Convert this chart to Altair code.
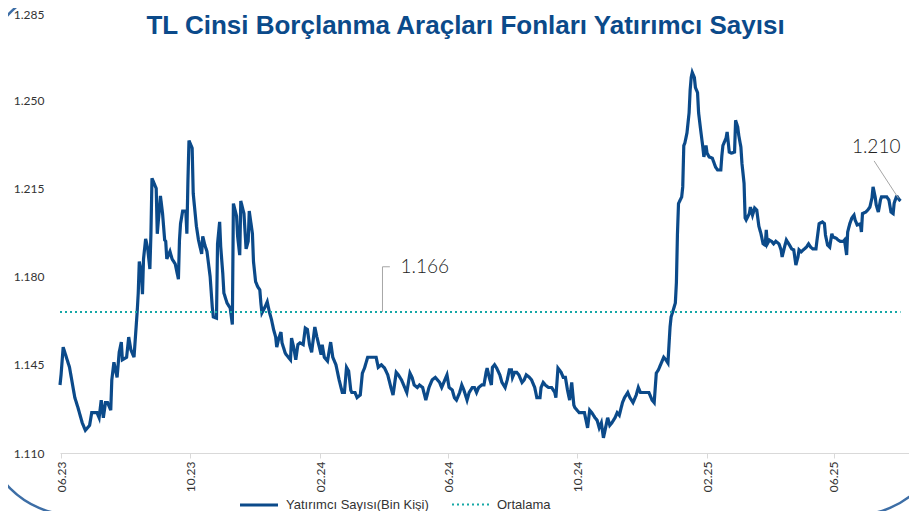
import altair as alt
import pandas as pd

title_text = "TL Cinsi Borçlanma Araçları Fonları Yatırımcı Sayısı"
series_main = "Yatırımcı Sayısı(Bin Kişi)"
series_avg = "Ortalama"

dates = [
    "2023-05-31", "2023-06-01", "2023-06-03", "2023-06-09", "2023-06-14", "2023-06-17", "2023-06-21", "2023-06-24",
    "2023-06-26", "2023-06-28", "2023-06-30", "2023-07-03", "2023-07-05", "2023-07-07", "2023-07-09", "2023-07-11",
    "2023-07-13", "2023-07-15", "2023-07-18", "2023-07-19", "2023-07-21", "2023-07-23", "2023-07-24", "2023-07-26",
    "2023-07-28", "2023-07-29", "2023-08-02", "2023-08-04", "2023-08-06", "2023-08-09", "2023-08-11", "2023-08-12",
    "2023-08-13", "2023-08-14", "2023-08-16", "2023-08-17", "2023-08-18", "2023-08-20", "2023-08-22", "2023-08-24",
    "2023-08-25", "2023-08-26", "2023-08-28", "2023-08-30", "2023-08-31", "2023-09-03", "2023-09-05", "2023-09-07",
    "2023-09-08", "2023-09-09", "2023-09-11", "2023-09-12", "2023-09-14", "2023-09-17", "2023-09-19", "2023-09-20",
    "2023-09-21", "2023-09-22", "2023-09-24", "2023-09-27", "2023-09-28", "2023-09-29", "2023-09-30", "2023-10-03",
    "2023-10-04", "2023-10-07", "2023-10-09", "2023-10-12", "2023-10-13", "2023-10-15", "2023-10-17", "2023-10-20",
    "2023-10-22", "2023-10-23", "2023-10-26", "2023-10-27", "2023-10-29", "2023-10-30", "2023-11-01", "2023-11-02",
    "2023-11-05", "2023-11-08", "2023-11-10", "2023-11-11", "2023-11-14", "2023-11-15", "2023-11-17", "2023-11-18",
    "2023-11-21", "2023-11-23", "2023-11-25", "2023-11-26", "2023-11-29", "2023-11-30", "2023-12-02", "2023-12-04",
    "2023-12-06", "2023-12-07", "2023-12-08", "2023-12-11", "2023-12-13", "2023-12-15", "2023-12-17", "2023-12-19",
    "2023-12-21", "2023-12-22", "2023-12-24", "2023-12-26", "2023-12-27", "2023-12-30", "2023-12-31", "2024-01-02",
    "2024-01-04", "2024-01-05", "2024-01-07", "2024-01-09", "2024-01-11", "2024-01-13", "2024-01-16", "2024-01-18",
    "2024-01-20", "2024-01-22", "2024-01-24", "2024-01-27", "2024-01-29", "2024-01-31", "2024-02-02", "2024-02-03",
    "2024-02-05", "2024-02-08", "2024-02-11", "2024-02-13", "2024-02-16", "2024-02-19", "2024-02-22", "2024-02-24",
    "2024-02-26", "2024-02-28", "2024-03-01", "2024-03-02", "2024-03-05", "2024-03-07", "2024-03-10", "2024-03-12",
    "2024-03-14", "2024-03-17", "2024-03-20", "2024-03-25", "2024-03-27", "2024-03-30", "2024-04-02", "2024-04-05",
    "2024-04-08", "2024-04-10", "2024-04-13", "2024-04-15", "2024-04-18", "2024-04-21", "2024-04-23", "2024-04-26",
    "2024-04-28", "2024-04-30", "2024-05-03", "2024-05-05", "2024-05-08", "2024-05-11", "2024-05-14", "2024-05-17",
    "2024-05-20", "2024-05-24", "2024-05-26", "2024-05-28", "2024-05-31", "2024-06-02", "2024-06-05", "2024-06-07",
    "2024-06-09", "2024-06-12", "2024-06-14", "2024-06-16", "2024-06-19", "2024-06-21", "2024-06-24", "2024-06-26",
    "2024-06-28", "2024-06-30", "2024-07-03", "2024-07-05", "2024-07-07", "2024-07-08", "2024-07-10", "2024-07-12",
    "2024-07-13", "2024-07-15", "2024-07-17", "2024-07-20", "2024-07-22", "2024-07-25", "2024-07-27", "2024-07-29",
    "2024-07-31", "2024-08-01", "2024-08-03", "2024-08-05", "2024-08-07", "2024-08-10", "2024-08-12", "2024-08-14",
    "2024-08-17", "2024-08-19", "2024-08-22", "2024-08-24", "2024-08-27", "2024-08-28", "2024-08-30", "2024-09-01",
    "2024-09-04", "2024-09-07", "2024-09-10", "2024-09-11", "2024-09-13", "2024-09-16", "2024-09-18", "2024-09-20",
    "2024-09-22", "2024-09-24", "2024-09-26", "2024-09-28", "2024-09-29", "2024-10-01", "2024-10-03", "2024-10-06",
    "2024-10-08", "2024-10-10", "2024-10-11", "2024-10-13", "2024-10-15", "2024-10-18", "2024-10-20", "2024-10-22",
    "2024-10-24", "2024-10-26", "2024-10-28", "2024-10-30", "2024-11-01", "2024-11-03", "2024-11-06", "2024-11-08",
    "2024-11-10", "2024-11-13", "2024-11-15", "2024-11-18", "2024-11-20", "2024-11-23", "2024-11-26", "2024-11-28",
    "2024-11-30", "2024-12-03", "2024-12-08", "2024-12-11", "2024-12-13", "2024-12-15", "2024-12-17", "2024-12-19",
    "2024-12-22", "2024-12-24", "2024-12-26", "2024-12-28", "2024-12-29", "2024-12-31", "2025-01-02", "2025-01-03",
    "2025-01-04", "2025-01-05", "2025-01-08", "2025-01-09", "2025-01-10", "2025-01-11", "2025-01-13", "2025-01-15",
    "2025-01-16", "2025-01-17", "2025-01-18", "2025-01-20", "2025-01-21", "2025-01-23", "2025-01-24", "2025-01-26",
    "2025-01-28", "2025-01-29", "2025-01-31", "2025-02-01", "2025-02-03", "2025-02-06", "2025-02-09", "2025-02-11",
    "2025-02-14", "2025-02-15", "2025-02-16", "2025-02-19", "2025-02-20", "2025-02-22", "2025-02-24", "2025-02-27",
    "2025-02-28", "2025-03-02", "2025-03-03", "2025-03-05", "2025-03-06", "2025-03-08", "2025-03-09", "2025-03-10",
    "2025-03-13", "2025-03-14", "2025-03-16", "2025-03-18", "2025-03-20", "2025-03-22", "2025-03-24", "2025-03-26",
    "2025-03-28", "2025-03-29", "2025-03-30", "2025-04-01", "2025-04-03", "2025-04-05", "2025-04-07", "2025-04-10",
    "2025-04-12", "2025-04-13", "2025-04-15", "2025-04-17", "2025-04-20", "2025-04-22", "2025-04-24", "2025-04-26",
    "2025-04-28", "2025-04-29", "2025-05-01", "2025-05-03", "2025-05-06", "2025-05-08", "2025-05-10", "2025-05-12",
    "2025-05-15", "2025-05-16", "2025-05-18", "2025-05-21", "2025-05-23", "2025-05-24", "2025-05-26", "2025-05-28",
    "2025-05-30", "2025-05-31", "2025-06-03", "2025-06-05", "2025-06-07", "2025-06-10", "2025-06-11", "2025-06-13",
    "2025-06-14", "2025-06-16", "2025-06-18", "2025-06-20", "2025-06-21", "2025-06-23", "2025-06-26", "2025-06-27",
    "2025-06-28", "2025-07-01", "2025-07-03", "2025-07-05", "2025-07-07", "2025-07-08", "2025-07-10", "2025-07-11",
    "2025-07-13", "2025-07-15", "2025-07-16", "2025-07-19", "2025-07-21", "2025-07-23", "2025-07-25", "2025-07-27",
    "2025-07-28", "2025-07-30", "2025-07-31", "2025-08-02", "2025-08-03",
]

values = [
    1.137, 1.141, 1.152, 1.144, 1.132, 1.128, 1.122, 1.119,
    1.120, 1.121, 1.126, 1.126, 1.126, 1.124, 1.131, 1.124,
    1.130, 1.130, 1.127, 1.139, 1.146, 1.142, 1.140, 1.150,
    1.154, 1.147, 1.148, 1.156, 1.151, 1.148, 1.160, 1.166,
    1.1735, 1.186, 1.181, 1.173, 1.187, 1.195, 1.191, 1.183,
    1.197, 1.219, 1.217, 1.215, 1.197, 1.212, 1.205, 1.1945,
    1.194, 1.187, 1.189, 1.190, 1.187, 1.185, 1.181, 1.179,
    1.1945, 1.201, 1.206, 1.206, 1.197, 1.218, 1.234, 1.231,
    1.213, 1.200, 1.1945, 1.189, 1.196, 1.1925, 1.190, 1.180,
    1.168, 1.164, 1.1635, 1.193, 1.2017, 1.192, 1.181, 1.1735,
    1.1695, 1.1675, 1.161, 1.209, 1.204, 1.196, 1.1885, 1.210,
    1.205, 1.191, 1.194, 1.206, 1.197, 1.186, 1.178, 1.176,
    1.1747, 1.1695, 1.1656, 1.168, 1.170, 1.166, 1.163, 1.159,
    1.156, 1.152, 1.1556, 1.158, 1.1537, 1.1497, 1.149, 1.148,
    1.147, 1.1556, 1.152, 1.147, 1.153, 1.1537, 1.153, 1.1596,
    1.159, 1.153, 1.150, 1.160, 1.156, 1.1525, 1.149, 1.153,
    1.148, 1.1465, 1.154, 1.148, 1.145, 1.139, 1.134, 1.134,
    1.144, 1.1425, 1.135, 1.134, 1.134, 1.132, 1.133, 1.1417,
    1.1437, 1.148, 1.148, 1.148, 1.144, 1.145, 1.1437, 1.141,
    1.136, 1.133, 1.142, 1.141, 1.139, 1.136, 1.134, 1.1417,
    1.140, 1.137, 1.136, 1.137, 1.136, 1.131, 1.136, 1.139,
    1.140, 1.138, 1.136, 1.138, 1.141, 1.136, 1.135, 1.132,
    1.131, 1.134, 1.137, 1.135, 1.131, 1.134, 1.136, 1.136,
    1.134, 1.136, 1.137, 1.137, 1.142, 1.1437, 1.140, 1.137,
    1.144, 1.145, 1.1437, 1.141, 1.138, 1.136, 1.139, 1.143,
    1.143, 1.140, 1.142, 1.142, 1.141, 1.138, 1.139, 1.141,
    1.140, 1.139, 1.136, 1.132, 1.132, 1.136, 1.138, 1.137,
    1.136, 1.136, 1.134, 1.132, 1.1437, 1.142, 1.140, 1.140,
    1.135, 1.131, 1.138, 1.129, 1.128, 1.127, 1.126, 1.126,
    1.126, 1.122, 1.120, 1.127, 1.126, 1.124, 1.123, 1.120,
    1.122, 1.116, 1.120, 1.124, 1.121, 1.122, 1.124, 1.126,
    1.125, 1.130, 1.132, 1.134, 1.132, 1.130, 1.133, 1.136,
    1.134, 1.134, 1.134, 1.131, 1.130, 1.1417, 1.143, 1.145,
    1.148, 1.147, 1.1457, 1.160, 1.164, 1.1667, 1.1695, 1.1775,
    1.197, 1.209, 1.2116, 1.2156, 1.232, 1.233, 1.237, 1.245,
    1.254, 1.259, 1.261, 1.259, 1.255, 1.253, 1.245, 1.238,
    1.2314, 1.2275, 1.232, 1.229, 1.2275, 1.227, 1.2235, 1.2223,
    1.2223, 1.228, 1.232, 1.235, 1.2374, 1.2294, 1.229, 1.2294,
    1.242, 1.2394, 1.236, 1.2314, 1.225, 1.217, 1.2033, 1.2025,
    1.205, 1.2076, 1.2044, 1.2072, 1.2064, 1.200, 1.197, 1.193,
    1.1925, 1.1985, 1.193, 1.1945, 1.194, 1.193, 1.194, 1.193,
    1.1906, 1.1878, 1.1913, 1.1945, 1.1925, 1.191, 1.1906, 1.1846,
    1.1878, 1.1906, 1.1898, 1.1906, 1.1917, 1.193, 1.1917, 1.191,
    1.191, 1.1945, 1.201, 1.2017, 1.201, 1.1965, 1.1925, 1.1917,
    1.197, 1.1957, 1.1953, 1.1945, 1.194, 1.194, 1.1945, 1.1886,
    1.1977, 1.201, 1.2033, 1.2044, 1.2025, 1.2005, 1.2009, 1.1977,
    1.205, 1.2056, 1.2064, 1.2076, 1.2112, 1.2156, 1.2116, 1.2084,
    1.2056, 1.2104, 1.2116, 1.2116, 1.2116, 1.2104, 1.2056, 1.205,
    1.2092, 1.2116, 1.2116, 1.2104, 1.210,
]

avg_value = 1.166
avg_dates = ["2023-05-31", "2025-08-03"]

tick_dates = [(2023, 6), (2023, 10), (2024, 2), (2024, 6), (2024, 10), (2025, 2), (2025, 6)]
y_ticks = [1.110, 1.145, 1.180, 1.215, 1.250, 1.285]

# callout labels
callout_text = ["1.166", "1.210"]
callout_dates = ["2024-04-17", "2025-06-18"]
callout_values = [1.1838, 1.2314]
# leader lines
leader_group = ["a", "a", "a", "b", "b"]
leader_order = [0, 1, 2, 0, 1]
leader_dates = ["2024-03-31", "2024-03-31", "2024-04-07", "2025-07-09", "2025-08-01"]
leader_values = [1.166, 1.1839, 1.1839, 1.2259, 1.2111]

NAVY = "#0b4a8a"
TEAL = "#16a8a6"
FRAME = "#3d6ea6"
TEXT = "#333333"
NUM_FONT = "Lato"
LEG_FONT = "'Liberation Sans Narrow', 'Liberation Sans', Arial, sans-serif"

df = pd.DataFrame({
    "date": dates + avg_dates,
    "value": values + [avg_value] * len(avg_dates),
    "series": [series_main] * len(dates) + [series_avg] * len(avg_dates),
})
df_call = pd.DataFrame({"date": callout_dates, "value": callout_values, "text": callout_text})
df_lead = pd.DataFrame({"date": leader_dates, "value": leader_values, "grp": leader_group, "ord": leader_order})

x_scale = alt.Scale(
    type="utc",
    domain=[alt.DateTime(year=2023, month=5, date=31, utc=True),
            alt.DateTime(year=2025, month=8, date=11, utc=True)],
)
y_scale = alt.Scale(domain=[1.110, 1.285], nice=False, zero=False)

x_axis = alt.Axis(
    values=[alt.DateTime(year=y, month=m, date=1, utc=True) for y, m in tick_dates],
    format="%m.%y", labelAngle=-90, title=None, grid=False,
    domainColor="#d9d9d9", tickColor="#d9d9d9", tickSize=5, labelPadding=3,
    labelFont=NUM_FONT, labelFontSize=12, labelColor=TEXT,
)
y_axis = alt.Axis(
    values=y_ticks, format=".3f", title=None, grid=False, domain=False, ticks=False,
    labelPadding=16, labelFont=NUM_FONT, labelFontSize=12, labelColor=TEXT,
    labelOffset={"condition": {"test": "datum.value > 1.28", "value": 2}, "value": 0},
)

X = alt.X("date:T", scale=x_scale, axis=x_axis)
Y = alt.Y("value:Q", scale=y_scale, axis=y_axis)

frame = alt.Chart(pd.DataFrame({"k": [0]})).mark_rect(
    fillOpacity=0, stroke=FRAME, strokeWidth=2.5, cornerRadius=90
).encode(x=alt.value(-76), x2=alt.value(885), y=alt.value(-26), y2=alt.value(503))

lines = alt.Chart(df).mark_line().encode(
    x=X, y=Y,
    color=alt.Color("series:N", scale=alt.Scale(domain=[series_main, series_avg], range=[NAVY, TEAL]),
                    legend=alt.Legend(title=None, orient="none", legendX=178, legendY=472,
                                      direction="horizontal", symbolType="stroke", symbolSize=1444,
                                      labelFont=LEG_FONT, labelFontSize=13, labelColor=TEXT,
                                      columnPadding=19, labelOffset=6)),
    strokeDash=alt.StrokeDash("series:N", scale=alt.Scale(domain=[series_main, series_avg],
                                                          range=[[1, 0], [2, 3]]), legend=None),
    strokeWidth=alt.StrokeWidth("series:N", scale=alt.Scale(domain=[series_main, series_avg],
                                                            range=[3.2, 2]), legend=None),
)

leaders = alt.Chart(df_lead).mark_line(color="#a6a6a6", strokeWidth=1).encode(
    x=alt.X("date:T", scale=x_scale), y=alt.Y("value:Q", scale=y_scale),
    detail="grp:N", order="ord:Q",
)

callouts = alt.Chart(df_call).mark_text(
    align="left", baseline="middle", font=NUM_FONT, fontSize=19, fontWeight=300, color="#222222"
).encode(x=alt.X("date:T", scale=x_scale), y=alt.Y("value:Q", scale=y_scale), text="text:N")

title = alt.Chart(pd.DataFrame({"t": [title_text]})).mark_text(
    align="center", baseline="alphabetic", font="'Liberation Sans', Arial, sans-serif",
    fontSize=26, fontWeight="bold", color="#0b4a8a"
).encode(x=alt.value(405.5), y=alt.value(22), text="t:N")

chart = alt.layer(frame, lines, leaders, callouts, title).properties(
    width=849, height=441,
    autosize=alt.AutoSizeParams(type="none"),
    padding={"left": 52, "top": 4, "right": 0, "bottom": 58},
).configure_view(stroke=None)

chart.save("out.html", embed_options={"renderer": "svg", "actions": False})
